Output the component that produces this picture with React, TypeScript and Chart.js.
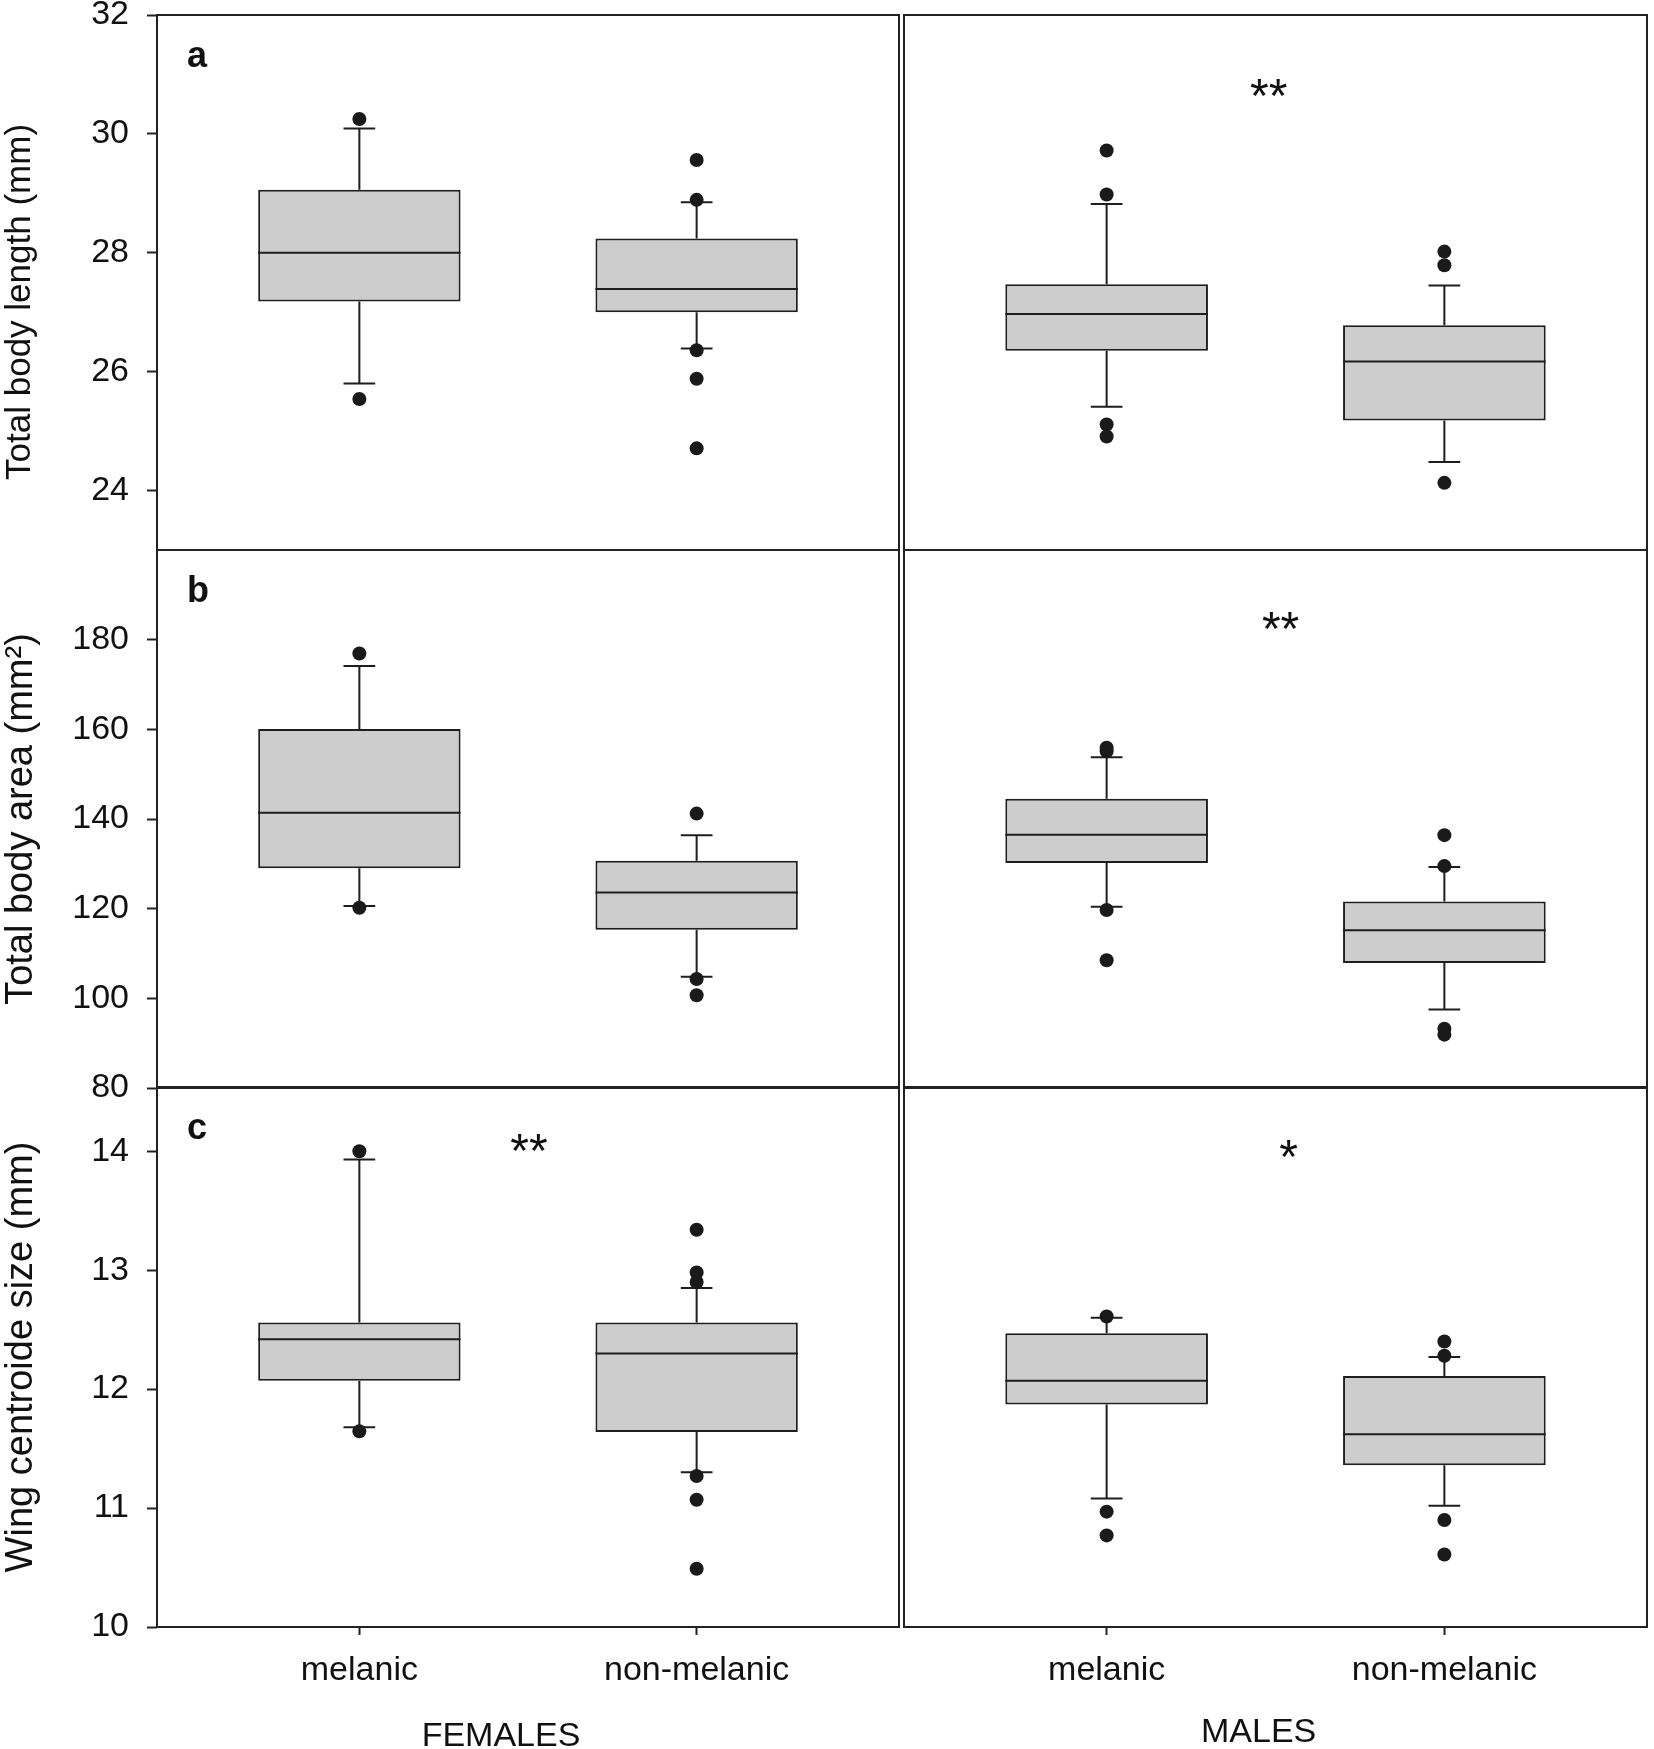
import React, { useEffect, useRef } from 'react';
import { Chart, registerables } from 'chart.js';

Chart.register(...registerables);
Chart.defaults.font.family = '"Liberation Sans", Arial, Helvetica, sans-serif';
Chart.defaults.color = '#111111';

// ---------- categories & labels ----------
const groups = ['melanic', 'non-melanic'];
const sexTitles = ['FEMALES', 'MALES'];
const panelLetters = ['a', 'b', 'c'];
const yTitles = ['Total body length (mm)', 'Total body area (mm²)', 'Wing centroide size (mm)'];

// ---------- axis ranges & ticks ----------
const lengthRange = [23, 32];
const lengthTicks = [24, 26, 28, 30, 32];
const areaRange = [80, 200];
const areaTicks = [80, 100, 120, 140, 160, 180];
const wingRange = [10, 14.54];
const wingTicks = [10, 11, 12, 13, 14];

// ---------- box summaries: [lower whisker, Q1, median, Q3, upper whisker] ----------
const lengthFemMelanic = [25.8, 27.18, 28.0, 29.06, 30.09];
const lengthFemNonMelanic = [26.39, 27.0, 27.39, 28.24, 28.85];
const lengthMaleMelanic = [25.41, 26.35, 26.97, 27.47, 28.82];
const lengthMaleNonMelanic = [24.48, 25.18, 26.17, 26.78, 27.45];
const areaFemMelanic = [120.6, 129.0, 141.4, 160.1, 174.1];
const areaFemNonMelanic = [104.8, 115.3, 123.6, 130.7, 136.4];
const areaMaleMelanic = [120.4, 130.2, 136.5, 144.5, 153.8];
const areaMaleNonMelanic = [97.5, 107.9, 115.2, 121.6, 129.3];
const wingFemMelanic = [11.68, 12.07, 12.42, 12.56, 13.93];
const wingFemNonMelanic = [11.3, 11.64, 12.3, 12.56, 12.85];
const wingMaleMelanic = [11.08, 11.87, 12.07, 12.47, 12.6];
const wingMaleNonMelanic = [11.02, 11.36, 11.62, 12.11, 12.27];

// ---------- outliers ----------
const lengthFemMelanicOut = [30.25, 25.54];
const lengthFemNonMelanicOut = [29.56, 28.89, 26.36, 25.88, 24.71];
const lengthMaleMelanicOut = [29.72, 28.98, 25.11, 24.91];
const lengthMaleNonMelanicOut = [28.02, 27.79, 24.13];
const areaFemMelanicOut = [176.9, 120.2];
const areaFemNonMelanicOut = [141.2, 104.3, 100.7];
const areaMaleMelanicOut = [155.9, 155.1, 119.7, 108.5];
const areaMaleNonMelanicOut = [136.4, 129.5, 93.2, 91.9];
const wingFemMelanicOut = [14.0, 11.645];
const wingFemNonMelanicOut = [13.34, 12.98, 12.9, 11.27, 11.07, 10.49];
const wingMaleMelanicOut = [12.61, 10.97, 10.77];
const wingMaleNonMelanicOut = [12.4, 12.28, 10.9, 10.61];

// ---------- significance marks (panel order: aF, aM, bF, bM, cF, cM) ----------
const sigText = ['', '**', '', '**', '**', '*'];
const sigX = [0, 0.48, 0, 0.515, 0.503, 0.539];
const sigY = [0, 30.74, 0, 183.65, 14.05, 14.0];

// ---------- styling constants ----------
const BOX_FILL = '#cdcdcd';
const INK = '#1e1e1e';
const DOT = '#1a1a1a';
const CAP = 0.047;
const HALF = 0.3;
const FONT = '"Liberation Sans", Arial, Helvetica, sans-serif';
const TITLE_SIZES = [35, 38, 38];
const TITLE_TAIL = ['    ', '', ''];

const overlayPlugin = {
  id: 'overlay',
  afterDraw(chart: any, _args: any, o: any) {
    const { ctx, chartArea: a, scales } = chart;
    ctx.save();
    ctx.strokeStyle = '#222222';
    ctx.lineWidth = 2;
    ctx.strokeRect(a.left, a.top, a.right - a.left, a.bottom - a.top);
    ctx.fillStyle = '#111111';
    if (o.letter) {
      ctx.font = `bold 36px ${FONT}`;
      ctx.textAlign = 'left';
      ctx.textBaseline = 'alphabetic';
      ctx.fillText(o.letter, a.left + 30, a.top + 52);
    }
    if (o.sig) {
      ctx.font = `48px ${FONT}`;
      ctx.textAlign = 'center';
      ctx.textBaseline = 'alphabetic';
      ctx.fillText(o.sig, scales.x.getPixelForValue(o.sigX), scales.y.getPixelForValue(o.sigY) + 22);
    }
    if (o.sexTitle) {
      ctx.font = `34px ${FONT}`;
      ctx.textAlign = 'center';
      ctx.textBaseline = 'alphabetic';
      ctx.fillText(o.sexTitle, scales.x.getPixelForValue(o.sexTitleX), a.bottom + o.sexTitleDy);
    }
    ctx.restore();
  },
};

type PanelProps = {
  areaLeft: number;
  areaTop: number;
  areaWidth: number;
  areaHeight: number;
  yLabels: boolean;
  xLabels: boolean;
  range: number[];
  ticks: number[];
  yTitle: string;
  yTitleSize: number;
  boxes: number[][];
  outliers: number[][];
  letter: string;
  sig: string;
  sx: number;
  sy: number;
  sexTitle: string;
  sexTitleX: number;
  sexTitleDy: number;
};

function Panel(p: PanelProps) {
  const ref = useRef<HTMLCanvasElement>(null);
  const yW = p.yLabels ? p.areaLeft : 0;
  const padL = p.yLabels ? 0 : 8;
  const padR = p.yLabels ? 12 : 4;
  const padT = 44;
  const xH = p.xLabels ? 118 : 0;
  const padB = p.xLabels ? 2 : 44;
  const canvasLeft = p.areaLeft - yW - padL;
  const canvasTop = p.areaTop - padT;
  const W = padL + yW + p.areaWidth + padR;
  const H = padT + p.areaHeight + xH + padB;

  useEffect(() => {
    if (!ref.current) return;
    const gap = (x: number) => ({ x, y: null });
    const boxData: any[] = [];
    const whiskers: any[] = [];
    const medians: any[] = [];
    const dots: any[] = [];
    p.boxes.forEach((s, i) => {
      const [lo, q1, m, q3, hi] = s;
      boxData.push({ x: i, y: [q1, q3] });
      whiskers.push(
        { x: i, y: lo }, { x: i, y: q1 }, gap(i),
        { x: i, y: q3 }, { x: i, y: hi }, gap(i),
        { x: i - CAP, y: lo }, { x: i + CAP, y: lo }, gap(i),
        { x: i - CAP, y: hi }, { x: i + CAP, y: hi }, gap(i)
      );
      medians.push({ x: i - HALF, y: m }, { x: i + HALF, y: m }, gap(i));
    });
    p.outliers.forEach((arr, i) => arr.forEach((v) => dots.push({ x: i, y: v })));

    const chart = new Chart(ref.current, {
      type: 'bar',
      data: {
        datasets: [
          {
            type: 'bar',
            data: boxData,
            backgroundColor: BOX_FILL,
            borderColor: INK,
            borderWidth: 2,
            borderSkipped: false,
            barPercentage: 0.6,
            categoryPercentage: 1,
            order: 4,
          } as any,
          {
            type: 'line',
            data: whiskers,
            borderColor: INK,
            borderWidth: 2,
            pointRadius: 0,
            spanGaps: false,
            fill: false,
            order: 3,
          } as any,
          {
            type: 'line',
            data: medians,
            borderColor: INK,
            borderWidth: 2,
            pointRadius: 0,
            spanGaps: false,
            fill: false,
            order: 2,
          } as any,
          {
            type: 'scatter',
            data: dots,
            pointRadius: 7,
            pointBackgroundColor: DOT,
            pointBorderWidth: 0,
            order: 1,
          } as any,
        ],
      },
      options: {
        responsive: false,
        animation: false,
        devicePixelRatio: 1,
        events: [],
        layout: { padding: { top: padT, bottom: padB, left: padL, right: padR } },
        plugins: {
          legend: { display: false },
          tooltip: { enabled: false },
          overlay: {
            letter: p.letter,
            sig: p.sig,
            sigX: p.sx,
            sigY: p.sy,
            sexTitle: p.sexTitle,
            sexTitleX: p.sexTitleX,
            sexTitleDy: p.sexTitleDy,
          },
        } as any,
        scales: {
          x: {
            type: 'linear',
            min: -0.6,
            max: 1.6,
            offset: false,
            afterBuildTicks: (axis: any) => {
              axis.ticks = [{ value: 0 }, { value: 1 }];
            },
            afterFit: (axis: any) => {
              axis.height = xH;
            },
            ticks: {
              display: p.xLabels,
              callback: (v: any) => groups[v as number] ?? '',
              font: { size: 34 },
              color: '#111111',
              padding: 15,
              maxRotation: 0,
              autoSkip: false,
            },
            grid: {
              display: p.xLabels,
              drawOnChartArea: false,
              drawTicks: true,
              tickLength: 8,
              tickWidth: 2,
              tickColor: '#222222',
              offset: false,
            },
            border: { display: false },
          } as any,
          y: {
            type: 'linear',
            min: p.range[0],
            max: p.range[1],
            beginAtZero: false,
            afterBuildTicks: (axis: any) => {
              axis.ticks = p.ticks.map((v) => ({ value: v }));
            },
            afterFit: (axis: any) => {
              axis.width = yW;
            },
            ticks: {
              display: p.yLabels,
              font: { size: 34 },
              color: '#111111',
              padding: 18,
            },
            grid: {
              display: p.yLabels,
              drawOnChartArea: false,
              drawTicks: true,
              tickLength: 10,
              tickWidth: 2,
              tickColor: '#222222',
            },
            border: { display: false },
            title: {
              display: p.yLabels,
              text: p.yTitle,
              font: { size: p.yTitleSize, lineHeight: 1.15 },
              color: '#111111',
              padding: { top: 0, bottom: 0 },
            },
          } as any,
        },
      } as any,
      plugins: [overlayPlugin as any],
    });
    return () => chart.destroy();
  }, []);

  return (
    <div style={{ position: 'absolute', left: canvasLeft, top: canvasTop, width: W, height: H }}>
      <canvas ref={ref} width={W} height={H} style={{ display: 'block', width: W, height: H }} />
    </div>
  );
}

export default function App() {
  const cols = [
    { areaLeft: 157, areaWidth: 742 },
    { areaLeft: 904, areaWidth: 746 },
  ];
  const rows = [
    { areaTop: 15, areaHeight: 535 },
    { areaTop: 550, areaHeight: 538 },
    { areaTop: 1087, areaHeight: 540 },
  ];
  const ranges = [lengthRange, areaRange, wingRange];
  const tickSets = [lengthTicks, areaTicks, wingTicks];
  const boxSets = [
    [[lengthFemMelanic, lengthFemNonMelanic], [lengthMaleMelanic, lengthMaleNonMelanic]],
    [[areaFemMelanic, areaFemNonMelanic], [areaMaleMelanic, areaMaleNonMelanic]],
    [[wingFemMelanic, wingFemNonMelanic], [wingMaleMelanic, wingMaleNonMelanic]],
  ];
  const outSets = [
    [[lengthFemMelanicOut, lengthFemNonMelanicOut], [lengthMaleMelanicOut, lengthMaleNonMelanicOut]],
    [[areaFemMelanicOut, areaFemNonMelanicOut], [areaMaleMelanicOut, areaMaleNonMelanicOut]],
    [[wingFemMelanicOut, wingFemNonMelanicOut], [wingMaleMelanicOut, wingMaleNonMelanicOut]],
  ];
  const sexTitleXs = [0.42, 0.45];
  const sexTitleDys = [119, 115];

  const panels: any[] = [];
  rows.forEach((r, ri) => {
    cols.forEach((c, ci) => {
      const k = ri * 2 + ci;
      panels.push(
        <Panel
          key={k}
          areaLeft={c.areaLeft}
          areaWidth={c.areaWidth}
          areaTop={r.areaTop}
          areaHeight={r.areaHeight}
          yLabels={ci === 0}
          xLabels={ri === 2}
          range={ranges[ri]}
          ticks={tickSets[ri]}
          yTitle={yTitles[ri] + TITLE_TAIL[ri]}
          yTitleSize={TITLE_SIZES[ri]}
          boxes={boxSets[ri][ci]}
          outliers={outSets[ri][ci]}
          letter={ci === 0 ? panelLetters[ri] : ''}
          sig={sigText[k]}
          sx={sigX[k]}
          sy={sigY[k]}
          sexTitle={ri === 2 ? sexTitles[ci] : ''}
          sexTitleX={sexTitleXs[ci]}
          sexTitleDy={sexTitleDys[ci]}
        />
      );
    });
  });

  return (
    <div
      style={{
        position: 'absolute',
        left: 0,
        top: 0,
        width: 1654,
        height: 1749,
        overflow: 'hidden',
        background: '#ffffff',
      }}
    >
      {panels}
    </div>
  );
}
